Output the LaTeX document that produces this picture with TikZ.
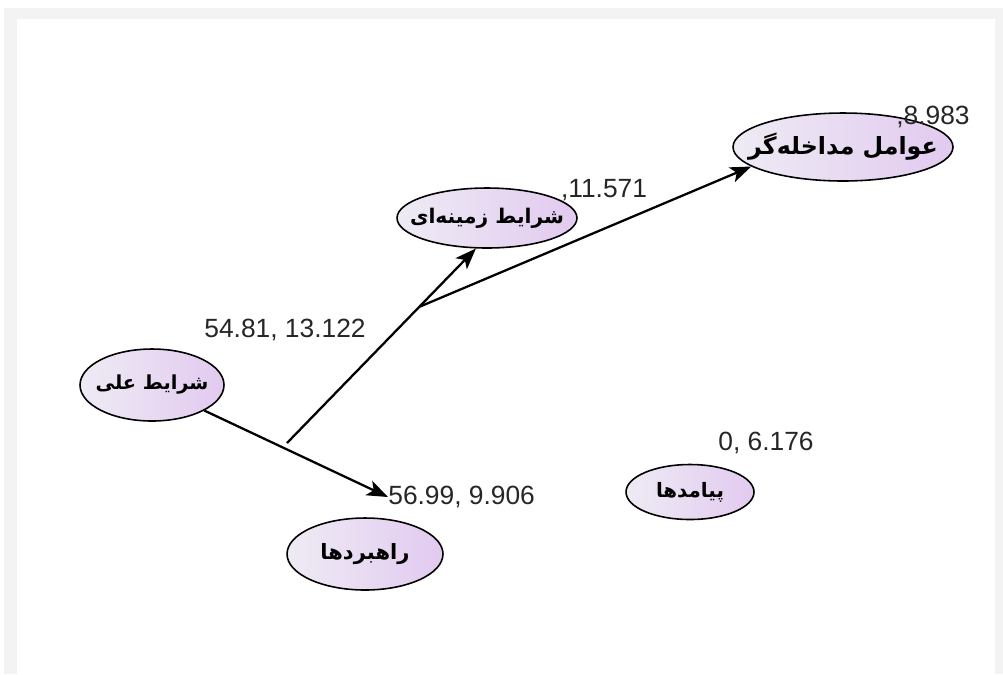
\documentclass[tikz,border=0pt]{standalone}
\usepackage{fontspec}
\setmainfont{Liberation Sans}
\newfontfamily\arabicfont[Script=Arabic]{DejaVu Sans}
\TeXXeTstate=1
\usetikzlibrary{shapes.geometric,arrows.meta,calc}
\definecolor{lavL}{RGB}{238,235,244}
\definecolor{lavR}{RGB}{226,202,240}
\definecolor{frameg}{RGB}{243,243,243}
\tikzset{
  ell/.style={ellipse, draw=black, line width=0.9pt, left color=lavL, right color=lavR,
     inner sep=0pt},
  etext/.style={inner sep=0pt, font=\arabicfont\bfseries\fontsize{#1}{14}\selectfont},
  lab/.style={font=\fontsize{15}{17}\selectfont, inner sep=0pt, text=black!85},
  conn/.style={line width=1.3pt, -{Stealth[length=12pt,width=9pt,inset=3pt]}},
}
\begin{document}
\begin{tikzpicture}[x=0.02cm,y=-0.02cm]
\useasboundingbox (0,0) rectangle (1003,674);
\fill[white] (0,0) rectangle (1003,674);
\fill[frameg] (4,8) rectangle (1003,674);
\fill[white] (17,19) rectangle (995,674);

\node[ell, minimum width=2.88cm, minimum height=1.44cm] (a) at (152,385) {};
\node[ell, minimum width=3.6cm, minimum height=1.2cm] (b) at (487,218) {};
\node[ell, minimum width=4.4cm, minimum height=1.36cm] (c) at (843,147) {};
\node[ell, minimum width=3.12cm, minimum height=1.44cm] (d) at (365,554) {};
\node[ell, minimum width=2.56cm, minimum height=1.1cm] (e) at (690,492) {};

\node[etext=11] (ta) at (a) {\beginR شرایط علی\endR};
\node[etext=11.5] (tb) at (b) {\beginR شرایط زمینه^^^^200cای\endR};
\node[etext=13.5] (tc) at (c) {\beginR عوامل مداخله^^^^200cگر\endR};
\node[etext=12] (td) at (d) {\beginR راهبردها\endR};
\node[etext=11.3] (te) at (e) {\beginR پیامدها\endR};

\node[lab] (l1) at (285,330) {54.81, 13.122};
\node[lab, anchor=west] (l2) at (388,497) {56.99, 9.906};
\node[lab] (l3) at (766,443) {0, 6.176};
\node[lab] (l4) at (604,190) {,11.571};
\node[lab] (l5) at (933,117) {,8.983};

\coordinate (j0) at (287,443);
\draw[conn] (a.-26) -- (l2.west);
\draw[conn] (j0) -- (b.-110);
\coordinate (j1) at ($(j0)!0.70!(b.-110)$);
\draw[conn] (j1) -- (c.192);
\end{tikzpicture}
\end{document}
